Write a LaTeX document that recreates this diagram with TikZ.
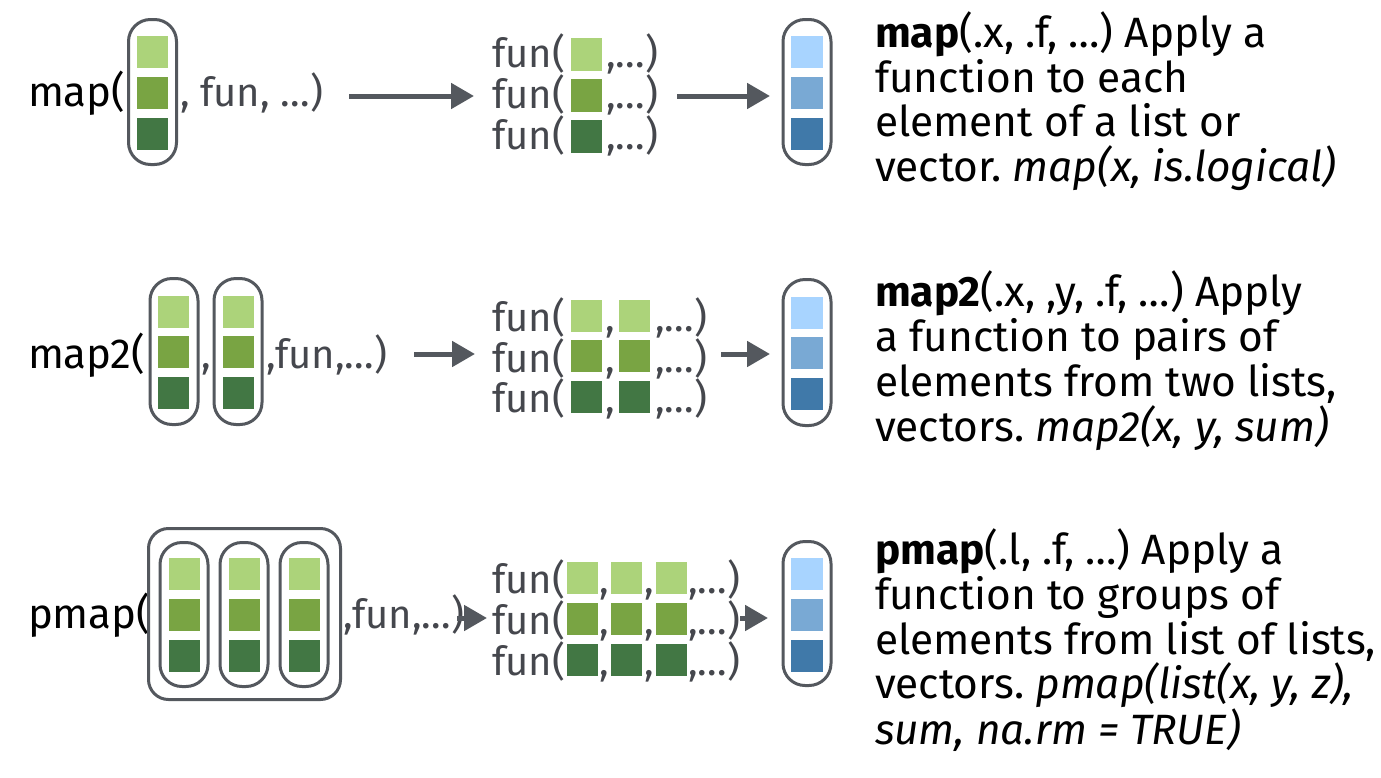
\documentclass[tikz,border=0pt]{standalone}
\usepackage{fontspec}
\setmainfont{Fira Sans}
\frenchspacing
\usetikzlibrary{arrows.meta}
\definecolor{gA}{HTML}{ACD37A}
\definecolor{gB}{HTML}{79A443}
\definecolor{gC}{HTML}{427744}
\definecolor{bA}{HTML}{A8D4FF}
\definecolor{bB}{HTML}{79A9D4}
\definecolor{bC}{HTML}{4079A9}
\definecolor{edge}{HTML}{54585E}
\definecolor{txtgrey}{HTML}{45474D}
\tikzset{
  lbl/.style={anchor=base west, inner sep=0pt, outer sep=0pt, font=\fontsize{42}{44}\selectfont, text=black},
  gtxt/.style={lbl, text=txtgrey, font=\fontsize{40}{44}\selectfont},
  sq/.style={minimum width=31pt, minimum height=32pt, inner sep=0pt, outer sep=0pt, draw=none},
  capsule/.style={draw=edge, line width=3pt, rounded corners=22pt, minimum width=48pt, inner sep=0pt},
  arr/.style={draw=edge, line width=5pt, -{Triangle[length=23pt,width=25pt]}},
  desc/.style={anchor=base west, inner sep=0pt, outer sep=0pt, align=left, text=black, font=\fontsize{42.4}{44.7}\selectfont}
}
\begin{document}
\begin{tikzpicture}[x=1pt,y=-1pt]
\useasboundingbox[fill=white] (0,0) rectangle (1381,777);
% ---------- Row 1: map ----------
\node[lbl] (map1) at (28,106) {map(};
\node[capsule, minimum height=145pt] (in1) at (152.5,92) {};
\foreach \c/\y [count=\i] in {gA/52,gB/92.5,gC/133.5}
  \node[sq, fill=\c] (in1s\i) at (152.5,\y) {};
\node[gtxt] (args1) at (180,106) {, fun, …)};
\coordinate (a1s) at (349,96);
\coordinate (a1e) at (474,96);
\draw[arr] (a1s) -- (a1e);
\foreach \b/\y/\c [count=\i] in {67/54.5/gA,108/95.5/gB,149/136.5/gC}{
  \node[gtxt] (f1t\i) at (492,\b) {fun(};
  \node[sq, minimum height=33pt, fill=\c] (f1s\i) at (586.5,\y) {};
  \node[gtxt] (f1e\i) at (606,\b) {,…)};
}
\coordinate (b1s) at (677,96);
\coordinate (b1e) at (770,96);
\draw[arr] (b1s) -- (b1e);
\node[capsule, minimum height=145pt] (out1) at (807,92) {};
\foreach \c/\y [count=\i] in {bA/52,bB/92.5,bC/133.5}
  \node[sq, minimum width=32pt, fill=\c] (out1s\i) at (807,\y) {};
\node[desc] (d1) at (875,181.6) {\textbf{map}(.x, .f, …) Apply a\\function to each\\element of a list or\\vector. \textit{map(x, is.logical)}};
% ---------- Row 2: map2 ----------
\node[lbl] (map2) at (28,368) {map2(};
\node[capsule, minimum height=146pt] (in2a) at (174,351.5) {};
\node[capsule, minimum height=146pt] (in2b) at (238,351.5) {};
\foreach \c/\y [count=\i] in {gA/311.5,gB/352,gC/392.5}{
  \node[sq, fill=\c] (in2as\i) at (173.5,\y) {};
  \node[sq, fill=\c] (in2bs\i) at (238,\y) {};
}
\node[gtxt] (comma2) at (201,368) {,};
\node[gtxt] (args2) at (266,368) {,fun,…)};
\coordinate (a2s) at (414,354);
\coordinate (a2e) at (475,354);
\draw[arr] (a2s) -- (a2e);
\foreach \b/\y/\c [count=\i] in {331/315.5/gA,372/356/gB,412/396.5/gC}{
  \node[gtxt] (f2t\i) at (492,\b) {fun(};
  \node[sq, fill=\c] (f2sa\i) at (586.5,\y) {};
  \node[gtxt] (f2c\i) at (605,\b) {,};
  \node[sq, fill=\c] (f2sb\i) at (634.5,\y) {};
  \node[gtxt] (f2e\i) at (655,\b) {,…)};
}
\coordinate (b2s) at (721,354);
\coordinate (b2e) at (770,354);
\draw[arr] (b2s) -- (b2e);
\node[capsule, minimum height=146pt] (out2) at (807,352.5) {};
\foreach \c/\y [count=\i] in {bA/312.5,bB/353,bC/393.5}
  \node[sq, minimum width=32pt, fill=\c] (out2s\i) at (807,\y) {};
\node[desc] (d2) at (875,441) {\textbf{map2}(.x, ,y, .f, …) Apply\\a function to pairs of\\elements from two lists,\\vectors. \textit{map2(x, y, sum)}};
% ---------- Row 3: pmap ----------
\node[lbl] (map3) at (28,628) {pmap(};
\node[draw=edge, line width=3pt, rounded corners=20pt, minimum width=192pt, minimum height=171pt, inner sep=0pt] (outer3) at (244.5,614) {};
\foreach \x [count=\j] in {184,244,304}{
  \node[capsule, minimum height=144pt] (in3c\j) at (\x,614.5) {};
  \foreach \c/\y [count=\i] in {gA/574,gB/614.5,gC/655.5}
    \node[sq, fill=\c] (in3s\j\i) at (\x+0.5,\y) {};
}
\node[gtxt] (args3) at (343,628) {,fun,…)};
\coordinate (a3s) at (457,618);
\coordinate (a3e) at (487,618);
\draw[arr] (a3s) -- (a3e);
\foreach \b/\y/\c [count=\i] in {593/577.5/gA,634/618.5/gB,675/659.5/gC}{
  \node[gtxt] (f3t\i) at (492,\b) {fun(};
  \node[sq, fill=\c] (f3sa\i) at (582.5,\y) {};
  \node[gtxt] (f3ca\i) at (599,\b) {,};
  \node[sq, fill=\c] (f3sb\i) at (626.5,\y) {};
  \node[gtxt] (f3cb\i) at (644,\b) {,};
  \node[sq, fill=\c] (f3sc\i) at (671,\y) {};
  \node[gtxt] (f3e\i) at (688,\b) {,…)};
}
\coordinate (b3s) at (740,618);
\coordinate (b3e) at (768,618);
\draw[arr] (b3s) -- (b3e);
\node[capsule, minimum height=144pt] (out3) at (807,613.5) {};
\foreach \c/\y [count=\i] in {bA/574,bB/614.5,bC/656}
  \node[sq, minimum width=32pt, fill=\c] (out3s\i) at (807,\y) {};
\node[desc] (d3) at (875,744.8) {\textbf{pmap}(.l, .f, …) Apply a\\function to groups of\\elements from list of lists,\\vectors. \textit{pmap(list(x, y, z),}\\\textit{sum, na.rm = TRUE)}};
\end{tikzpicture}
\end{document}
